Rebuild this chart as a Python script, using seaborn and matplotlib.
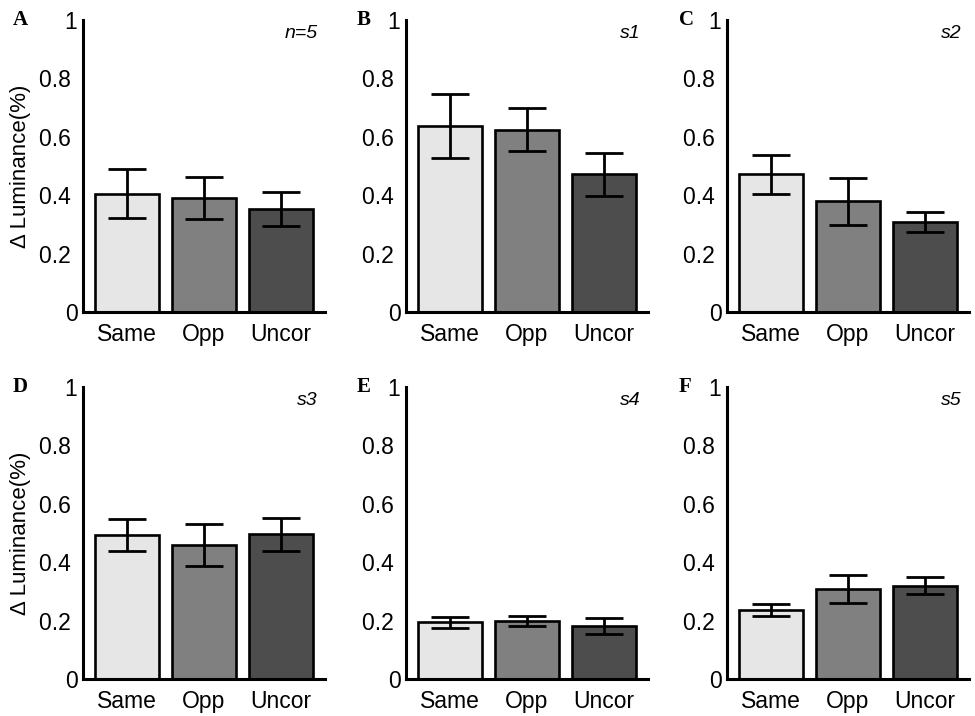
import numpy as np
import pandas as pd
import matplotlib
matplotlib.use("Agg")
import matplotlib.pyplot as plt
import seaborn as sns

# condiciones y valores
conditions = ["Same", "Opp", "Uncor"]
panel_letters = ["A", "B", "C", "D", "E", "F"]
panel_tags = ["n=5", "s1", "s2", "s3", "s4", "s5"]

lum_mean = {
    "n=5": [0.405, 0.391, 0.352],
    "s1": [0.637, 0.625, 0.471],
    "s2": [0.471, 0.379, 0.308],
    "s3": [0.492, 0.458, 0.495],
    "s4": [0.195, 0.198, 0.181],
    "s5": [0.237, 0.308, 0.320],
}
lum_err = {
    "n=5": [0.084, 0.073, 0.058],
    "s1": [0.110, 0.075, 0.073],
    "s2": [0.067, 0.080, 0.035],
    "s3": [0.055, 0.072, 0.058],
    "s4": [0.019, 0.018, 0.027],
    "s5": [0.021, 0.048, 0.030],
}

bar_colors = ["#e6e6e6", "#808080", "#4d4d4d"]
yticks = [0, 0.2, 0.4, 0.6, 0.8, 1]
ytick_labels = ["0", "0.2 ", "0.4 ", "0.6 ", "0.8 ", "1"]

sns.set_style("ticks")
plt.rcParams["font.family"] = ["Liberation Sans", "DejaVu Sans"]
plt.rcParams.update({"text.color": "black", "axes.labelcolor": "black",
                     "xtick.color": "black", "ytick.color": "black"})

W, H = 975, 716
fig = plt.figure(figsize=(W / 100, H / 100), dpi=100)

# posiciones de los ejes en pixeles (izquierda, arriba)
lefts = [83, 406, 727]
tops = [20, 387]
ax_w, ax_h = 242, 292
letter_x = [13, 357, 679]

for i, tag in enumerate(panel_tags):
    row, col = divmod(i, 3)
    l, t = lefts[col], tops[row]
    ax = fig.add_axes([l / W, 1 - (t + ax_h) / H, ax_w / W, ax_h / H])

    df = pd.DataFrame({"cond": conditions, "lum": lum_mean[tag]})
    sns.barplot(data=df, x="cond", y="lum", hue="cond", palette=bar_colors,
                width=0.82, edgecolor="black", linewidth=1.9, legend=False,
                ax=ax, zorder=2)
    ax.errorbar(np.arange(len(conditions)), lum_mean[tag], yerr=lum_err[tag],
                fmt="none", ecolor="black", elinewidth=2.0, capsize=14,
                capthick=2.0, zorder=3)

    ax.set_xlim(-0.57, 2.57)
    ax.set_ylim(0, 1)
    ax.set_yticks(yticks)
    ax.set_yticklabels(ytick_labels)
    ax.tick_params(axis="both", length=0, labelsize=16.5, colors="black")
    ax.tick_params(axis="y", pad=4)
    ax.tick_params(axis="x", pad=8)
    ax.set_xlabel("")
    if col == 0:
        ax.set_ylabel("\u0394 Luminance(%)", fontsize=16, labelpad=6)
    else:
        ax.set_ylabel("")

    sns.despine(ax=ax)
    for s in ["left", "bottom"]:
        ax.spines[s].set_linewidth(2.2)
        ax.spines[s].set_color("black")

    ax.text(0.97, 0.94, tag, transform=ax.transAxes, ha="right", va="baseline",
            fontsize=14, style="italic")
    fig.text(letter_x[col] / W, 1 - (t + 5) / H, panel_letters[i],
             fontsize=15, fontweight="bold", family="Liberation Serif",
             ha="left", va="baseline")

fig.savefig("out.png", dpi=100)
